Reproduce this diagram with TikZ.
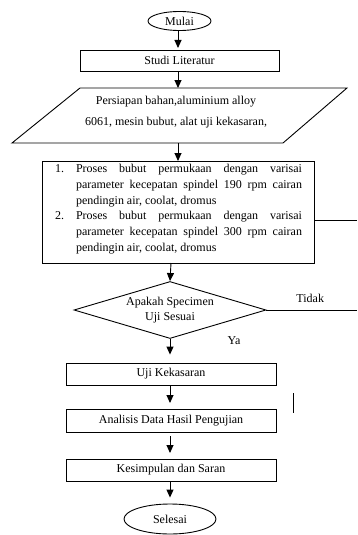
\documentclass[tikz,border=0pt]{standalone}
\usepackage{fontspec}
\setmainfont{Liberation Serif}
\usetikzlibrary{shapes.geometric,arrows.meta}
\begin{document}
\begin{tikzpicture}[x=1pt,y=-1pt,
  font=\fontsize{12}{15}\selectfont,
  line width=0.9pt,
  arr/.style={-{Triangle[length=8pt,width=7pt]}},
  stepbox/.style={draw, rectangle, inner sep=0pt},
  term/.style={draw, ellipse, inner sep=0pt},
  decide/.style={draw, diamond, inner sep=0pt},
  lbl/.style={inner sep=0pt}]
\useasboundingbox (0,0) rectangle (357,535);

% terminators and boxes
\node[term, minimum width=63pt, minimum height=19pt] (mulai) at (179.5,21) {Mulai};
\node[stepbox, minimum width=199pt, minimum height=21pt] (studi) at (179.5,60.5) {Studi Literatur};

% parallelogram
\coordinate (ptl) at (80,88);
\coordinate (ptr) at (347,88);
\coordinate (pbr) at (283,143);
\coordinate (pbl) at (12,143);
\draw (ptl) -- (ptr) -- (pbr) -- (pbl) -- cycle;
\coordinate (ptop) at (178,88);
\coordinate (pbot) at (178,143);
\node[lbl, align=center, font=\fontsize{12}{21}\selectfont] (persiapan) at (176,112.5)
  {Persiapan bahan,aluminium alloy\\6061, mesin bubut, alat uji kekasaran,};

% process box
\node[stepbox, minimum width=272pt, minimum height=102pt] (proses) at (178,212) {};
\node[lbl, anchor=north] (prosestext) at (178.5,163.5) {\parbox{247pt}{\fontsize{12}{15.9}\selectfont
\hangindent=21pt\hangafter=1\noindent\makebox[21pt][l]{1.}Proses bubut permukaan dengan varisai\linebreak
parameter kecepatan spindel 190 rpm cairan\linebreak
pendingin air, coolat, dromus\par
\hangindent=21pt\hangafter=1\noindent\makebox[21pt][l]{2.}Proses bubut permukaan dengan varisai\linebreak
parameter kecepatan spindel 300 rpm cairan\linebreak
pendingin air, coolat, dromus\par}};

% decision
\node[decide, minimum width=192pt, minimum height=57pt, aspect=3.37] (cek) at (170,310) {};
\node[lbl, align=center, font=\fontsize{12}{15}\selectfont] (cektext) at (170,310.5) {Apakah Specimen\\Uji Sesuai};
\node[lbl, anchor=west] (tidak) at (296,298) {Tidak};
\node[lbl] (ya) at (234,341) {Ya};

\node[stepbox, minimum width=210pt, minimum height=22pt] (uji) at (171,374) {Uji Kekasaran};
\node[stepbox, minimum width=210pt, minimum height=23pt] (analisis) at (171,420.5) {Analisis Data Hasil Pengujian};
\node[stepbox, minimum width=210pt, minimum height=22pt] (kesimpulan) at (171,470) {Kesimpulan dan Saran};
\node[term, minimum width=92pt, minimum height=30pt] (selesai) at (170,519) {Selesai};

% free ends
\coordinate (rightA) at (357,220);
\coordinate (rightB) at (357,310);
\coordinate (markA) at (293,393);
\coordinate (markB) at (293,413);

% connectors
\draw[arr, shorten >=2pt] (178,31) -- (178,50);
\draw[arr] (178,71) -- (ptop);
\draw[arr] (pbot) -- (178,161);
\draw[arr] (171,263) -- (cek.north);
\draw[arr, shorten >=8pt] (cek.south) -- (cek.south |- uji.north);
\draw[arr, shorten >=6pt] (uji.south -| 170,0) -- (170,409);
\draw[arr, shorten <=4pt, shorten >=6pt] (analisis.south -| 170,0) -- (170,459);
\draw[arr, shorten >=6pt] (kesimpulan.south -| 170,0) -- (selesai.north);
\draw (proses.east |- rightA) -- (rightA);
\draw (cek.east) -- (rightB);
\draw (markA) -- (markB);
\end{tikzpicture}
\end{document}
